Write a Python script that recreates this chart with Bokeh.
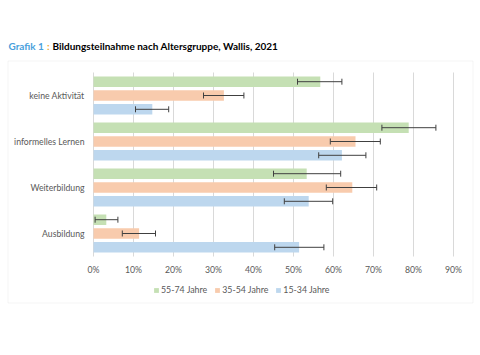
from bokeh.plotting import figure
from bokeh.models import (Range1d, FixedTicker, NumeralTickFormatter, Legend, LegendItem,
                          ColumnDataSource, Label, BoxAnnotation)
from bokeh.core.properties import value
from bokeh.embed import file_html
from bokeh.resources import INLINE

# ---- data (percent) ----
categories = ["keine Aktivität", "informelles Lernen", "Weiterbildung", "Ausbildung"]
groups = ["55-74 Jahre", "35-54 Jahre", "15-34 Jahre"]
values_55_74 = [56.7, 78.8, 53.3, 3.2]
values_35_54 = [32.6, 65.5, 64.7, 11.4]
values_15_34 = [14.7, 62.1, 53.8, 51.4]
lower_55_74 = [51.0, 72.1, 45.0, 0.4]
lower_35_54 = [27.5, 59.2, 58.2, 7.2]
lower_15_34 = [10.5, 56.3, 47.7, 45.3]
upper_55_74 = [62.1, 85.6, 61.8, 6.1]
upper_35_54 = [37.6, 71.7, 70.8, 15.5]
upper_15_34 = [18.8, 68.1, 59.8, 57.6]
x_ticks = [0, 10, 20, 30, 40, 50, 60, 70, 80, 90]
title_prefix = "Grafik 1"
title_sep = ":"
title_text = "Bildungsteilnahme nach Altersgruppe, Wallis, 2021"

series = [
    (groups[0], values_55_74, lower_55_74, upper_55_74, "#c5e0b4", 0.3),
    (groups[1], values_35_54, lower_35_54, upper_35_54, "#f8cbad", 0.0),
    (groups[2], values_15_34, lower_15_34, upper_15_34, "#bdd7ee", -0.3),
]

FONT = "Lato"
TXT = "#595959"
n = len(categories)
cat_pos = [n - 1 - i for i in range(n)]

# ---- layout: the frame covers the whole chart box (page x 0..480, y 0..304);
#      plot area is page x 93..453 (0..90 %), y 72..256 (4 category bands)
W, FRAME_H, MB = 480, 304, 24
H = FRAME_H + MB
PX0, PX90 = 93, 453
PY_TOP, PY_BOT = 72, 256
xs = 0.9 / (PX90 - PX0)                   # data per pixel (x)
ysp = n / (PY_BOT - PY_TOP)               # data per pixel (y)
x_range = Range1d((0 - PX0) * xs, (W - PX0) * xs)
y_range = Range1d(-0.5 - (FRAME_H - PY_BOT) * ysp, (n - 0.5) + PY_TOP * ysp)

p = figure(width=W, height=H, output_backend="svg", toolbar_location=None,
           x_range=x_range, y_range=y_range, y_axis_location=None,
           min_border_left=0, min_border_right=0, min_border_top=0, min_border_bottom=MB)
p.outline_line_color = None
p.background_fill_color = "white"
p.border_fill_color = "white"
p.xgrid.visible = False
p.ygrid.visible = False

# vertical grid lines at the tick values
tick_vals = [v / 100 for v in x_ticks]
p.segment(x0=tick_vals, x1=tick_vals, y0=[-0.5] * len(tick_vals), y1=[n - 0.5] * len(tick_vals),
          line_color="#d9d9d9", line_width=1)

items = []
for name, vals, lo, hi, color, off in series:
    yv = [c + off for c in cat_pos]
    src = ColumnDataSource(dict(y=yv, right=[v / 100 for v in vals],
                                lo=[v / 100 for v in lo], hi=[v / 100 for v in hi],
                                y0=[y - 0.065 for y in yv], y1=[y + 0.065 for y in yv]))
    r = p.hbar(y="y", left=0, right="right", height=0.23, source=src,
               fill_color=color, line_color=None)
    p.segment(x0="lo", y0="y", x1="hi", y1="y", source=src, line_color="#404040", line_width=1)
    p.segment(x0="lo", y0="y0", x1="lo", y1="y1", source=src, line_color="#404040", line_width=1)
    p.segment(x0="hi", y0="y0", x1="hi", y1="y1", source=src, line_color="#404040", line_width=1)
    items.append(LegendItem(label=name, renderers=[r]))

# category labels at the category positions
p.text(x=[0] * n, y=cat_pos, text=categories, x_offset=-9, text_align="right",
       text_baseline="middle", text_font=value(FONT), text_font_size="8.7px", text_color=TXT)

# x axis drawn at the bottom of the category bands
ax = p.xaxis[0]
ax.fixed_location = -0.5
ax.ticker = FixedTicker(ticks=tick_vals)
ax.formatter = NumeralTickFormatter(format="0%")
ax.axis_line_color = None
ax.major_tick_line_color = None
ax.minor_tick_line_color = None
ax.major_tick_out = 0
ax.major_tick_in = 0
ax.major_label_text_font = FONT
ax.major_label_text_font_size = "8.7px"
ax.major_label_text_color = TXT
ax.major_label_standoff = 7

# legend (screen units: x from frame left, y up from frame bottom)
legend = Legend(items=items, orientation="horizontal", location=(153, FRAME_H - 295),
                label_text_font=FONT, label_text_font_size="8.8px", label_text_color=TXT,
                glyph_width=6, glyph_height=6, label_standoff=2, spacing=7,
                padding=0, margin=0, border_line_color=None, background_fill_alpha=0)
p.add_layout(legend, "center")

# outer chart border
p.add_layout(BoxAnnotation(left=7.5, right=472.5, top=FRAME_H - 60.5, bottom=FRAME_H - 302.5,
                           left_units="screen", right_units="screen",
                           top_units="screen", bottom_units="screen",
                           fill_alpha=0, line_color="#d9d9d9", line_width=1))

# title
common = dict(x_units="screen", y_units="screen", y=FRAME_H - 45, text_font=FONT,
              text_font_size="10px", text_baseline="middle", text_font_style="bold")
p.add_layout(Label(x=8, text=title_prefix, text_color="#4a9fdc", **common))
p.add_layout(Label(x=46.5, text=title_sep, text_color="#f0a830", **common))
p.add_layout(Label(x=52, text=title_text, text_color="#000000", **common))

open("out.html", "w").write(file_html(p, INLINE))
